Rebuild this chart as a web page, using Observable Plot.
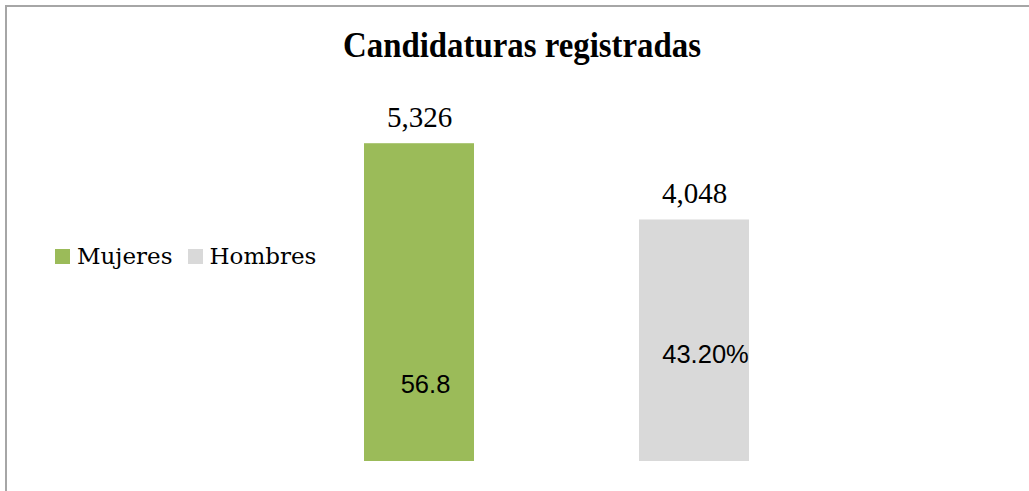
<!DOCTYPE html>
<html>
<head>
<meta charset="utf-8">
<script src="https://cdn.jsdelivr.net/npm/d3@7"></script>
<script src="https://cdn.jsdelivr.net/npm/@observablehq/plot@0.6"></script>
<style>
  html, body { margin: 0; padding: 0; background: #fff; }
  #wrap { position: relative; width: 1029px; height: 491px; overflow: hidden; background: #fff; }
  #frame { position: absolute; left: 5px; top: 5px; right: -10px; bottom: -10px; border-top: 2px solid #a6a6a6; border-left: 2px solid #a6a6a6; }
  #chart { position: absolute; left: 0; top: 0; }
  #title { position: absolute; top: 27.7px; left: 522px; font: bold 35px "Liberation Serif", serif; line-height: 35px; white-space: nowrap; color: #000; transform-origin: 0 0; }
  #legend { position: absolute; left: 55px; top: 244.5px; font: 23px "DejaVu Serif", serif; line-height: 23px; white-space: nowrap; color: #000; }
  #legend .sw { display: inline-block; width: 15px; height: 15px; vertical-align: baseline; margin-right: 7px; }
  #legend .item { margin-right: 15px; }
</style>
</head>
<body>
<div id="wrap">
  <div id="frame"></div>
  <div id="chart"></div>
  <div id="title">Candidaturas registradas</div>
  <div id="legend"></div>
</div>
<script>
const titulo = "Candidaturas registradas";
const categorias = ["Mujeres", "Hombres"];
const candidaturas = [5326, 4048];
const etiquetasValor = ["5,326", "4,048"];
const etiquetasPorcentaje = ["56.8", "43.20%"];
const colores = ["#9BBB59", "#D9D9D9"];

const data = categorias.map((c, i) => ({
  categoria: c,
  valor: candidaturas[i],
  etiqueta: etiquetasValor[i],
  pct: etiquetasPorcentaje[i]
}));

const plot = Plot.plot({
  width: 1029,
  height: 491,
  marginLeft: 199,
  marginRight: 115,
  marginTop: 103,
  marginBottom: 30,
  style: { background: "transparent", overflow: "visible" },
  x: { domain: categorias, padding: 0.6, axis: null },
  y: { domain: [0, 6000], axis: null },
  color: { domain: categorias, range: colores },
  marks: [
    Plot.barY(data, { x: "categoria", y: "valor", fill: "categoria" }),
    Plot.text(data, {
      x: "categoria", y: "valor", text: "etiqueta",
      lineAnchor: "bottom", dy: -17,
      fontFamily: "Liberation Serif", fontSize: 29, fill: "#000"
    }),
    Plot.text(data.filter(d => d.categoria === "Mujeres"), {
      x: "categoria", y: () => 0, text: "pct",
      lineAnchor: "bottom", dy: -69, dx: 6,
      fontFamily: "Liberation Sans", fontSize: 25.5, fill: "#000"
    }),
    Plot.text(data.filter(d => d.categoria === "Hombres"), {
      x: "categoria", y: () => 0, text: "pct",
      lineAnchor: "bottom", dy: -99, dx: 11,
      fontFamily: "Liberation Sans", fontSize: 25.5, fill: "#000"
    })
  ]
});
document.getElementById("chart").appendChild(plot);

// title: centered, condensed to the reference width
const t = document.getElementById("title");
t.textContent = titulo;
const w = t.getBoundingClientRect().width;
const target = 358;
const s = target / w;
t.style.transform = `translateX(${-target / 2}px) scaleX(${s})`;

// legend
const lg = document.getElementById("legend");
categorias.forEach((c, i) => {
  const item = document.createElement("span");
  item.className = "item";
  const sw = document.createElement("span");
  sw.className = "sw";
  sw.style.background = colores[i];
  item.appendChild(sw);
  item.appendChild(document.createTextNode(c));
  lg.appendChild(item);
});
</script>
</body>
</html>
